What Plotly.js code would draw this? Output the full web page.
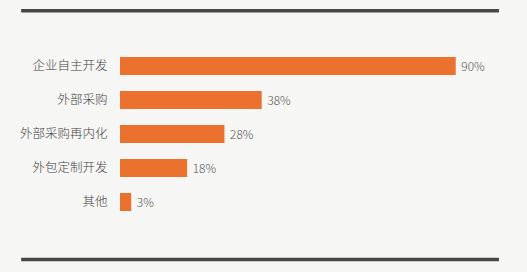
<!DOCTYPE html>
<html>
<head>
<meta charset="utf-8">
<script src="https://cdn.plot.ly/plotly-3.0.1.min.js"></script>
<style>html,body{margin:0;padding:0;background:#f6f6f4;}</style>
</head>
<body>
<div id="chart" style="width:527px;height:272px;"></div>
<script>
const categories = ["企业自主开发", "外部采购", "外部采购再内化", "外包定制开发", "其他"];
const values = [90, 38, 28, 18, 3];
const labels = ["90%", "38%", "28%", "18%", "3%"];

const trace = {
  type: "bar",
  orientation: "h",
  y: categories,
  x: values,
  text: labels,
  textposition: "outside",
  texttemplate: " %{text}",
  cliponaxis: false,
  textfont: {family: "Noto Sans CJK SC, Noto Sans, sans-serif", size: 12.5, color: "#555", weight: 300},
  marker: {color: "#eb712f"},
  hoverinfo: "skip"
};

const layout = {
  width: 527, height: 272,
  paper_bgcolor: "#f6f6f4",
  plot_bgcolor: "#f6f6f4",
  margin: {l: 120, r: 34, t: 49, b: 52.5},
  bargap: 0.47,
  showlegend: false,
  xaxis: {range: [0, 100], visible: false, fixedrange: true},
  yaxis: {
    autorange: "reversed",
    showgrid: false, zeroline: false, showline: false,
    ticks: "outside", ticklen: 9, tickcolor: "rgba(0,0,0,0)",
    tickfont: {family: "Noto Sans CJK SC, sans-serif", size: 12.5, color: "#3f3f3f", weight: 300}
  },
  shapes: [
    {type: "line", xref: "paper", yref: "paper", x0: -0.265, x1: 1.016, y0: 1.2246, y1: 1.2246, line: {color: "#474747", width: 3.5}},
    {type: "line", xref: "paper", yref: "paper", x0: -0.265, x1: 1.016, y0: -0.2375, y1: -0.2375, line: {color: "#474747", width: 3.5}}
  ]
};

Plotly.newPlot("chart", [trace], layout, {displayModeBar: false, staticPlot: true});
</script>
</body>
</html>
